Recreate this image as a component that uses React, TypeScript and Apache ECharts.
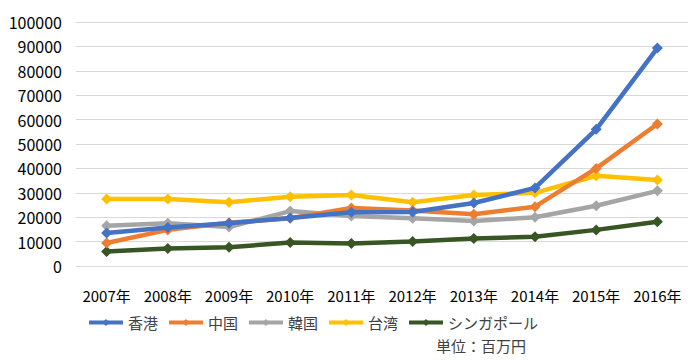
import React, { useEffect, useRef } from "react";
import * as echarts from "echarts";

const categories = ["2007年", "2008年", "2009年", "2010年", "2011年", "2012年", "2013年", "2014年", "2015年", "2016年"];
const seriesNames = ["香港", "中国", "韓国", "台湾", "シンガポール"];
const hongKong = [13500, 15800, 17500, 19700, 22000, 22100, 25800, 32000, 56000, 89300];
const china = [9400, 14800, 17700, 19600, 23800, 22700, 21200, 24300, 40000, 58200];
const korea = [16500, 17500, 16000, 22500, 20500, 19600, 18400, 20000, 24700, 30800];
const taiwan = [27500, 27500, 26100, 28400, 29100, 26100, 29100, 30000, 37000, 35200];
const singapore = [5900, 7200, 7700, 9600, 9200, 10000, 11300, 12000, 14800, 18100];
const colors = ["#4472C4", "#ED7D31", "#A5A5A5", "#FFC000", "#375623"];
const unitLabel = "単位：百万円";

const FONT = "'Noto Sans CJK JP', 'Noto Sans', sans-serif";

export default function App() {
  const ref = useRef<HTMLDivElement>(null);
  useEffect(() => {
    if (!ref.current) return;
    const chart = echarts.init(ref.current, undefined, { renderer: "svg" });
    const data = [hongKong, china, korea, taiwan, singapore];
    chart.setOption({
      animation: false,
      textStyle: { fontFamily: FONT },
      grid: { left: 76, right: 5, top: 22, bottom: 95 },
      legend: {
        left: 82,
        top: 310,
        itemWidth: 34,
        itemHeight: 9,
        itemGap: 9,
        textStyle: { fontSize: 15, color: "#404040", fontFamily: FONT },
        lineStyle: { width: 4 },
        data: seriesNames,
      },
      graphic: [
        {
          type: "text",
          left: 436,
          top: 338,
          style: { text: unitLabel, fontSize: 15, fill: "#404040", fontFamily: FONT },
        },
      ],
      xAxis: {
        type: "category",
        data: categories,
        axisLine: { show: false },
        axisTick: { show: false },
        axisLabel: { fontSize: 15, color: "#000", margin: 22, fontFamily: FONT, interval: 0 },
      },
      yAxis: {
        type: "value",
        min: 0,
        max: 100000,
        interval: 10000,
        axisLine: { show: false },
        axisTick: { show: false },
        axisLabel: { fontSize: 16, color: "#000", margin: 14, fontFamily: FONT, formatter: (v: number) => String(v) },
        splitLine: { lineStyle: { color: "#D9D9D9", width: 1 } },
      },
      series: seriesNames.map((name, i) => ({
        name,
        type: "line",
        data: data[i],
        symbol: "diamond",
        symbolSize: 11,
        lineStyle: { width: 4.5, color: colors[i] },
        itemStyle: { color: colors[i] },
        z: 10 - i,
      })),
    });
    return () => chart.dispose();
  }, []);
  return <div ref={ref} style={{ width: 693, height: 361, position: "absolute", left: 0, top: 0 }} />;
}
